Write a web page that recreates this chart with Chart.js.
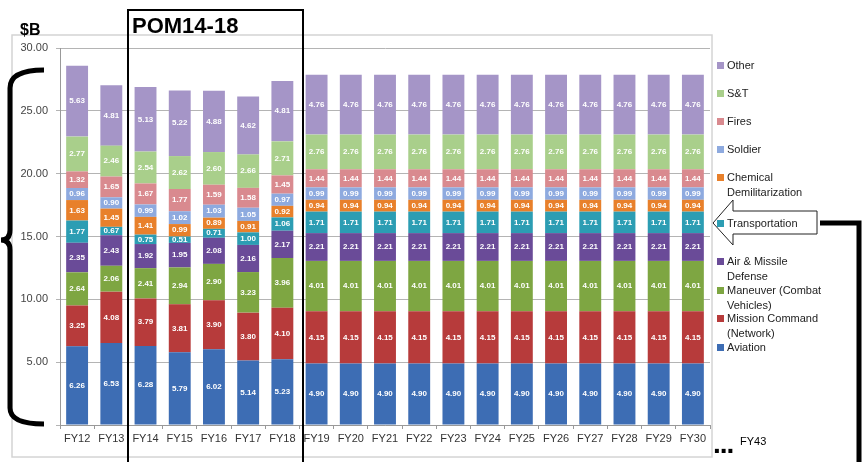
<!DOCTYPE html>
<html>
<head>
<meta charset="utf-8">
<script src="https://cdn.jsdelivr.net/npm/chart.js@4.4.1/dist/chart.umd.min.js"></script>
<style>
  body { margin: 0; background: #fff; }
  #wrap { position: relative; width: 868px; height: 462px; overflow: hidden; }
  #chart { position: absolute; left: 0; top: 0; }
  #overlay { position: absolute; left: 0; top: 0; }
  .txt { position: absolute; font-family: "Liberation Sans", Arial, sans-serif; white-space: pre; }
  .leg { position: absolute; left: 717px; font-family: "Liberation Sans", Arial, sans-serif;
         font-size: 11px; line-height: 15px; color: #222; white-space: pre; }
  .leg i { position: absolute; left: 0; top: 4px; width: 7px; height: 7px; }
  .leg span { display: block; padding-left: 10px; }
</style>
</head>
<body>
<div id="wrap">
  <canvas id="chart" width="868" height="462"></canvas>
  <svg id="overlay" width="868" height="462">
    <rect x="12" y="35" width="700" height="422" fill="none" stroke="#d4d4d4" stroke-width="1.5"/>
    <!-- brace on the left -->
    <path d="M44 70 Q10 70 10 88 L10 230 Q10 240 1 240 Q10 240 10 250 L10 408 Q10 424 44 424"
          fill="none" stroke="#000" stroke-width="5"/>
    <!-- POM box -->
    <rect x="128" y="10" width="175" height="470" fill="none" stroke="#000" stroke-width="2"/>
    <!-- arrow to Transportation -->
    <path d="M713 223 L733 200 L733 211 L817 211 L817 234 L733 234 L733 245 Z"
          fill="#fff" stroke="#222" stroke-width="1"/>
    <path d="M820 223 L859 223 L859 470" fill="none" stroke="#000" stroke-width="5"/>
  </svg>
  <div class="txt" style="left:20px;top:21px;font-size:16px;font-weight:bold;">$B</div>
  <div class="txt" style="left:132px;top:13px;font-size:22px;font-weight:bold;">POM14-18</div>
  <div class="txt" style="left:713px;top:428px;font-size:28px;font-weight:bold;letter-spacing:-1px;">...</div>
  <div class="txt" style="left:740px;top:435px;font-size:11px;">FY43</div>
  <div id="legend"></div>
</div>
<script>
const years = ['FY12','FY13','FY14','FY15','FY16','FY17','FY18','FY19','FY20','FY21','FY22',
               'FY23','FY24','FY25','FY26','FY27','FY28','FY29','FY30'];

const seriesNames = ['Aviation', 'Mission Command\n(Network)', 'Maneuver (Combat\nVehicles)',
                     'Air & Missile\nDefense', 'Transportation', 'Chemical\nDemilitarization',
                     'Soldier', 'Fires', 'S&T', 'Other'];

const seriesColors = ['#3d6db4', '#b73b3b', '#7ea642', '#6a4b98', '#2c9db3', '#e8802b',
                      '#8eaadf', '#d98a8f', '#a9cf8b', '#a595c7'];

// values in $B, FY12..FY18 then flat FY19..FY30
const aviation       = [6.26, 6.53, 6.28, 5.79, 6.02, 5.14, 5.23, 4.90, 4.90, 4.90, 4.90, 4.90, 4.90, 4.90, 4.90, 4.90, 4.90, 4.90, 4.90];
const missionCommand = [3.25, 4.08, 3.79, 3.81, 3.90, 3.80, 4.10, 4.15, 4.15, 4.15, 4.15, 4.15, 4.15, 4.15, 4.15, 4.15, 4.15, 4.15, 4.15];
const maneuver       = [2.64, 2.06, 2.41, 2.94, 2.90, 3.23, 3.96, 4.01, 4.01, 4.01, 4.01, 4.01, 4.01, 4.01, 4.01, 4.01, 4.01, 4.01, 4.01];
const airMissile     = [2.35, 2.43, 1.92, 1.95, 2.08, 2.16, 2.17, 2.21, 2.21, 2.21, 2.21, 2.21, 2.21, 2.21, 2.21, 2.21, 2.21, 2.21, 2.21];
const transportation = [1.77, 0.67, 0.75, 0.51, 0.71, 1.00, 1.06, 1.71, 1.71, 1.71, 1.71, 1.71, 1.71, 1.71, 1.71, 1.71, 1.71, 1.71, 1.71];
const chemDemil      = [1.63, 1.45, 1.41, 0.99, 0.89, 0.91, 0.92, 0.94, 0.94, 0.94, 0.94, 0.94, 0.94, 0.94, 0.94, 0.94, 0.94, 0.94, 0.94];
const soldier        = [0.96, 0.90, 0.99, 1.02, 1.03, 1.05, 0.97, 0.99, 0.99, 0.99, 0.99, 0.99, 0.99, 0.99, 0.99, 0.99, 0.99, 0.99, 0.99];
const fires          = [1.32, 1.65, 1.67, 1.77, 1.59, 1.58, 1.45, 1.44, 1.44, 1.44, 1.44, 1.44, 1.44, 1.44, 1.44, 1.44, 1.44, 1.44, 1.44];
const sAndT          = [2.77, 2.46, 2.54, 2.62, 2.60, 2.66, 2.71, 2.76, 2.76, 2.76, 2.76, 2.76, 2.76, 2.76, 2.76, 2.76, 2.76, 2.76, 2.76];
const other          = [5.63, 4.81, 5.13, 5.22, 4.88, 4.62, 4.81, 4.76, 4.76, 4.76, 4.76, 4.76, 4.76, 4.76, 4.76, 4.76, 4.76, 4.76, 4.76];

const seriesValues = [aviation, missionCommand, maneuver, airMissile, transportation,
                      chemDemil, soldier, fires, sAndT, other];

const yTicks = [0, 5, 10, 15, 20, 25, 30];

// legend, top to bottom (Other first), top of first line
const legendTops = [58, 86, 114, 142, 170, 216, 254, 283, 311, 340];

const font = '"Liberation Sans", Arial, sans-serif';

const segmentLabels = {
    id: 'segmentLabels',
    afterDatasetsDraw(chart) {
        const ctx = chart.ctx;
        ctx.save();
        ctx.fillStyle = '#fff';
        ctx.font = 'bold 8px "Liberation Sans", Arial, sans-serif';
        ctx.textAlign = 'center';
        ctx.textBaseline = 'middle';
        chart.data.datasets.forEach((ds, i) => {
            chart.getDatasetMeta(i).data.forEach((bar, j) => {
                const p = bar.getProps(['x', 'y', 'base'], true);
                ctx.fillText(ds.data[j].toFixed(2), p.x, (p.y + p.base) / 2);
            });
        });
        ctx.restore();
    }
};

new Chart(document.getElementById('chart'), {
    type: 'bar',
    data: {
        labels: years,
        datasets: seriesValues.map((vals, i) => ({
            label: seriesNames[i].replace('\n', ' '),
            data: vals,
            backgroundColor: seriesColors[i],
            borderWidth: 0,
            categoryPercentage: 0.64,
            barPercentage: 1
        }))
    },
    options: {
        responsive: false,
        animation: false,
        layout: { padding: { left: 0, right: 158, top: 48, bottom: 12 } },
        plugins: { legend: { display: false }, tooltip: { enabled: false } },
        scales: {
            x: {
                stacked: true,
                afterFit: s => { s.height = 25; },
                grid: { display: true, drawOnChartArea: false, offset: true, tickLength: 4, color: '#999' },
                border: { color: '#999' },
                ticks: { color: '#333', padding: 3, font: { family: font, size: 11 } }
            },
            y: {
                stacked: true,
                min: 0,
                max: 30,
                afterFit: s => { s.width = 60; },
                afterBuildTicks: s => { s.ticks = yTicks.map(v => ({ value: v })); },
                grid: { color: '#b4b4b4', tickLength: 4 },
                border: { color: '#999' },
                ticks: {
                    color: '#444',
                    padding: 8,
                    font: { family: font, size: 11 },
                    // the 0.00 label sits under the brace in the original
                    callback: v => (v === 0 ? '' : v.toFixed(2))
                }
            }
        }
    },
    plugins: [segmentLabels]
});

const legend = document.getElementById('legend');
for (let k = seriesNames.length - 1, n = 0; k >= 0; k--, n++) {
    const d = document.createElement('div');
    d.className = 'leg';
    d.style.top = legendTops[n] + 'px';
    d.innerHTML = '<i style="background:' + seriesColors[k] + '"></i><span></span>';
    d.querySelector('span').textContent = seriesNames[k];
    legend.appendChild(d);
}
</script>
</body>
</html>
